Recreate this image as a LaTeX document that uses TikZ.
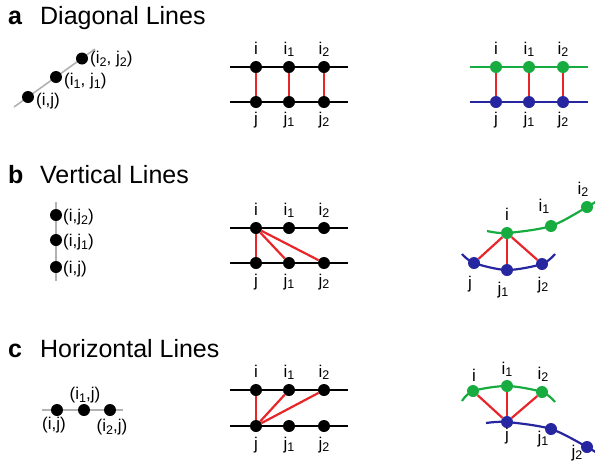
\documentclass[tikz,border=0pt]{standalone}
\usepackage{fontspec}
\setmainfont{Liberation Sans}
\usetikzlibrary{positioning, backgrounds}
\definecolor{rungred}{RGB}{232,38,42}
\definecolor{strandg}{RGB}{22,172,64}
\definecolor{strandb}{RGB}{38,38,160}
\newcommand{\lsub}[1]{\raisebox{-0.3ex}{\fontsize{12.5}{12.5}\selectfont #1}}
\tikzset{
  dot/.style   = {circle, fill=black, inner sep=0pt, minimum size=12pt},
  gdot/.style  = {dot, fill=strandg},
  bdot/.style  = {dot, fill=strandb},
  lbl/.style   = {font=\fontsize{17}{17}\selectfont, inner sep=0pt},
  ttl/.style   = {font=\fontsize{25}{25}\selectfont, anchor=base west, inner sep=0pt},
  tag/.style   = {ttl, font=\fontsize{25}{25}\selectfont\bfseries},
  rail/.style  = {line width=2.2pt},
  grail/.style = {line width=2.2pt, strandg},
  brail/.style = {line width=2.2pt, strandb},
  rung/.style  = {line width=2.2pt, rungred},
  guide/.style = {line width=1.6pt, gray!60},
}

\begin{document}
\begin{tikzpicture}[x=1pt, y=-1pt]
  \useasboundingbox (0,0) rectangle (595,464);
  \node[tag] (ta) at (8,24)  {a}; \node[ttl] (tta) at (40,24)  {Diagonal Lines};
  \node[tag] (tb) at (8,183) {b}; \node[ttl] (ttb) at (40,183) {Vertical Lines};
  \node[tag] (tc) at (8,357) {c}; \node[ttl] (ttc) at (40,357) {Horizontal Lines};

  % a: diagonal
  \coordinate (ga0) at (14,107); \coordinate (ga1) at (95,49);
  \node[dot] (da0) at (28,97) {};  \node[dot] (da1) at (56,77) {};  \node[dot] (da2) at (82,58.5) {};
  \node[lbl, anchor=west] (pa0) at (36,101) {(i,j)};
  \node[lbl, anchor=west] (pa1) at (64,81)  {(i\lsub{1}, j\lsub{1})};
  \node[lbl, anchor=west] (pa2) at (90,59)  {(i\lsub{2}, j\lsub{2})};

  \coordinate (ail) at (230,67);  \coordinate (air) at (348,67);
  \coordinate (ajl) at (230,102); \coordinate (ajr) at (348,102);
  \node[dot] (ai0) at (256,67) {};  \node[dot] (ai1) at (289,67) {};  \node[dot] (ai2) at (324,67) {};
  \node[dot] (aj0) at (256,102) {}; \node[dot] (aj1) at (289,102) {}; \node[dot] (aj2) at (324,102) {};
  \node[lbl, anchor=base] (lai0) at (256,54) {i}; \node[lbl, anchor=base] (lai1) at (289,54) {i\lsub{1}};
  \node[lbl, anchor=base] (lai2) at (324,54) {i\lsub{2}};
  \node[lbl, anchor=base] (laj0) at (256,124) {j}; \node[lbl, anchor=base] (laj1) at (289,124) {j\lsub{1}};
  \node[lbl, anchor=base] (laj2) at (324,124) {j\lsub{2}};
  \draw[rung] (ai0)--(aj0); \draw[rung] (ai1)--(aj1); \draw[rung] (ai2)--(aj2);

  \coordinate (rail) at (470,67);  \coordinate (rair) at (588,67);
  \coordinate (rajl) at (470,102); \coordinate (rajr) at (588,102);
  \node[gdot] (rai0) at (496,67) {};  \node[gdot] (rai1) at (529,67) {};  \node[gdot] (rai2) at (563,67) {};
  \node[bdot] (raj0) at (496,102) {}; \node[bdot] (raj1) at (529,102) {}; \node[bdot] (raj2) at (563,102) {};
  \node[lbl, anchor=base] (lrai0) at (496,54) {i}; \node[lbl, anchor=base] (lrai1) at (529,54) {i\lsub{1}};
  \node[lbl, anchor=base] (lrai2) at (563,54) {i\lsub{2}};
  \node[lbl, anchor=base] (lraj0) at (496,124) {j}; \node[lbl, anchor=base] (lraj1) at (529,124) {j\lsub{1}};
  \node[lbl, anchor=base] (lraj2) at (563,124) {j\lsub{2}};
  \draw[rung] (rai0)--(raj0); \draw[rung] (rai1)--(raj1); \draw[rung] (rai2)--(raj2);

  % b: vertical
  \coordinate (gb0) at (56,202); \coordinate (gb1) at (56,281);
  \node[dot] (db2) at (56,215) {}; \node[dot] (db1) at (56,240) {}; \node[dot] (db0) at (56,267) {};
  \node[lbl, anchor=west] (pb2) at (63,217) {(i,j\lsub{2})};
  \node[lbl, anchor=west] (pb1) at (63,242) {(i,j\lsub{1})};
  \node[lbl, anchor=west] (pb0) at (63,269) {(i,j)};

  \coordinate (bil) at (230,228); \coordinate (bir) at (348,228);
  \coordinate (bjl) at (230,263); \coordinate (bjr) at (348,263);
  \node[dot] (bi0) at (256,228) {}; \node[dot] (bi1) at (289,228) {}; \node[dot] (bi2) at (324,228) {};
  \node[dot] (bj0) at (256,263) {}; \node[dot] (bj1) at (289,263) {}; \node[dot] (bj2) at (324,263) {};
  \node[lbl, anchor=base] (lbi0) at (256,215) {i}; \node[lbl, anchor=base] (lbi1) at (289,215) {i\lsub{1}};
  \node[lbl, anchor=base] (lbi2) at (324,215) {i\lsub{2}};
  \node[lbl, anchor=base] (lbj0) at (256,286) {j}; \node[lbl, anchor=base] (lbj1) at (289,286) {j\lsub{1}};
  \node[lbl, anchor=base] (lbj2) at (324,286) {j\lsub{2}};
  \draw[rung] (bi0)--(bj0); \draw[rung] (bi0)--(bj1); \draw[rung] (bi0)--(bj2);

  \node[gdot] (rbi0) at (507,233) {}; \node[gdot] (rbi1) at (551,226) {}; \node[gdot] (rbi2) at (587,207) {};
  \node[bdot] (rbj0) at (474,263) {}; \node[bdot] (rbj1) at (507,270) {}; \node[bdot] (rbj2) at (542,264) {};
  \node[lbl, anchor=base] (lrbi0) at (507,220) {i}; \node[lbl, anchor=base] (lrbi1) at (544,211) {i\lsub{1}};
  \node[lbl, anchor=base] (lrbi2) at (583,194) {i\lsub{2}};
  \node[lbl, anchor=base] (lrbj0) at (470,288) {j}; \node[lbl, anchor=base] (lrbj1) at (503,294) {j\lsub{1}};
  \node[lbl, anchor=base] (lrbj2) at (543,289) {j\lsub{2}};
  \draw[rung] (rbi0)--(rbj0); \draw[rung] (rbi0)--(rbj1); \draw[rung] (rbi0)--(rbj2);

  % c: horizontal
  \coordinate (gc0) at (42,410); \coordinate (gc1) at (123,410);
  \node[dot] (dc0) at (57,410) {}; \node[dot] (dc1) at (84,410) {}; \node[dot] (dc2) at (110,410) {};
  \node[lbl] (pc0) at (54,425) {(i,j)};
  \node[lbl] (pc1) at (85,395) {(i\lsub{1},j)};
  \node[lbl] (pc2) at (112,427) {(i\lsub{2},j)};

  \coordinate (cil) at (230,390); \coordinate (cir) at (348,390);
  \coordinate (cjl) at (230,426); \coordinate (cjr) at (348,426);
  \node[dot] (ci0) at (256,390) {}; \node[dot] (ci1) at (289,390) {}; \node[dot] (ci2) at (324,390) {};
  \node[dot] (cj0) at (256,426) {}; \node[dot] (cj1) at (289,426) {}; \node[dot] (cj2) at (324,426) {};
  \node[lbl, anchor=base] (lci0) at (256,377) {i}; \node[lbl, anchor=base] (lci1) at (289,377) {i\lsub{1}};
  \node[lbl, anchor=base] (lci2) at (324,377) {i\lsub{2}};
  \node[lbl, anchor=base] (lcj0) at (256,449) {j}; \node[lbl, anchor=base] (lcj1) at (289,449) {j\lsub{1}};
  \node[lbl, anchor=base] (lcj2) at (324,449) {j\lsub{2}};
  \draw[rung] (cj0)--(ci0); \draw[rung] (cj0)--(ci1); \draw[rung] (cj0)--(ci2);

  \node[gdot] (rci0) at (473,391) {}; \node[gdot] (rci1) at (507,386) {}; \node[gdot] (rci2) at (542,392) {};
  \node[bdot] (rcj0) at (507,422) {}; \node[bdot] (rcj1) at (551,429) {}; \node[bdot] (rcj2) at (587,447) {};
  \node[lbl, anchor=base] (lrci0) at (474,381) {i}; \node[lbl, anchor=base] (lrci1) at (507,374) {i\lsub{1}};
  \node[lbl, anchor=base] (lrci2) at (543,379) {i\lsub{2}};
  \node[lbl, anchor=base] (lrcj0) at (507,440) {j}; \node[lbl, anchor=base] (lrcj1) at (543,443) {j\lsub{1}};
  \node[lbl, anchor=base] (lrcj2) at (577,457) {j\lsub{2}};
  \draw[rung] (rcj0)--(rci0); \draw[rung] (rcj0)--(rci1); \draw[rung] (rcj0)--(rci2);

  \begin{scope}[on background layer]
    \draw[guide] (ga0)--(ga1); \draw[guide] (gb0)--(gb1); \draw[guide] (gc0)--(gc1);
    \draw[rail] (ail)--(air); \draw[rail] (ajl)--(ajr);
    \draw[rail] (bil)--(bir); \draw[rail] (bjl)--(bjr);
    \draw[rail] (cil)--(cir); \draw[rail] (cjl)--(cjr);
    \draw[grail] (rail)--(rair); \draw[brail] (rajl)--(rajr);
    \draw[grail] plot[smooth] coordinates {(487,231) (507,233) (551,226) (587,207) (600,199)};
    \draw[brail] plot[smooth] coordinates {(462,254) (474,263) (507,270) (542,264) (555,254)};
    \draw[grail] plot[smooth] coordinates {(462,401) (473,391) (507,386) (542,392) (555,402)};
    \draw[brail] plot[smooth] coordinates {(486,423) (507,422) (551,429) (587,447) (600,455)};
  \end{scope}
\end{tikzpicture}
\end{document}
